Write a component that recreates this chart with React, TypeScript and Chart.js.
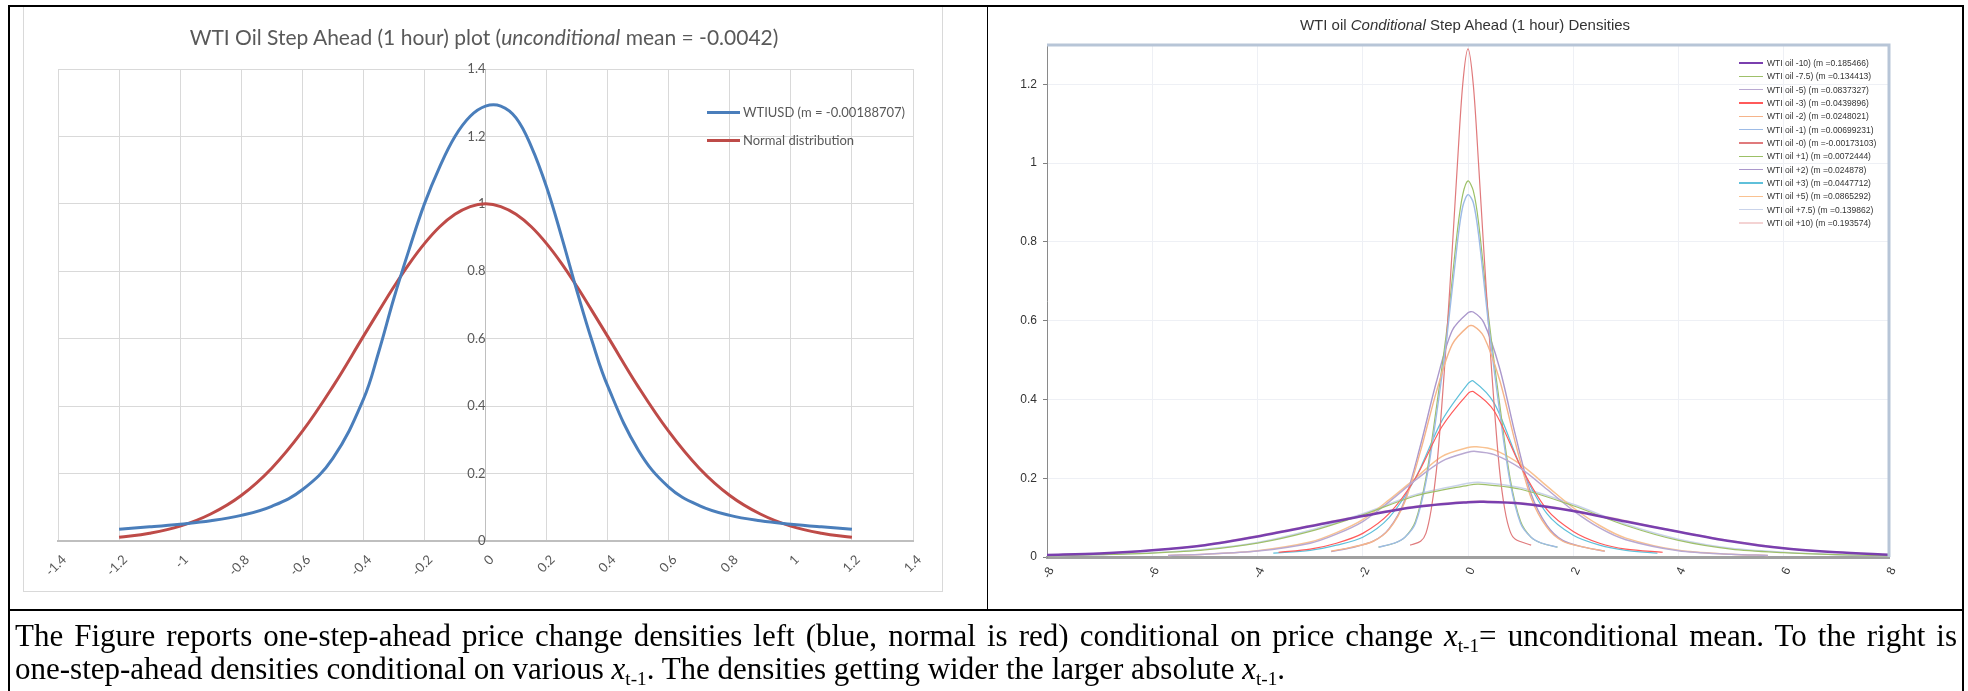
import React, { useEffect, useRef } from 'react';
import { Chart, registerables } from 'chart.js';

Chart.register(...registerables);

// ---------- Left chart data ----------
const leftX = [-1.2, -1.1, -1.0, -0.9, -0.8, -0.7, -0.6, -0.5, -0.4, -0.35, -0.3, -0.25, -0.2, -0.15, -0.1, -0.05, 0, 0.05, 0.1, 0.15, 0.2, 0.25, 0.3, 0.35, 0.4, 0.5, 0.6, 0.7, 0.8, 0.9, 1.0, 1.1, 1.2];
const wtiusdY = [0.035, 0.042, 0.05, 0.06, 0.076, 0.103, 0.152, 0.245, 0.42, 0.56, 0.72, 0.865, 1.0, 1.11, 1.2, 1.26, 1.29, 1.29, 1.255, 1.17, 1.05, 0.9, 0.74, 0.59, 0.46, 0.27, 0.16, 0.105, 0.076, 0.06, 0.05, 0.042, 0.035];
const normalY = [0.011, 0.023, 0.044, 0.08, 0.135, 0.216, 0.325, 0.458, 0.607, 0.681, 0.754, 0.822, 0.882, 0.932, 0.969, 0.992, 1.0, 0.992, 0.969, 0.932, 0.882, 0.822, 0.754, 0.681, 0.607, 0.458, 0.325, 0.216, 0.135, 0.08, 0.044, 0.023, 0.011];
const leftXTicks = [-1.4, -1.2, -1.0, -0.8, -0.6, -0.4, -0.2, 0, 0.2, 0.4, 0.6, 0.8, 1.0, 1.2, 1.4];
const leftXTickLabels = ['-1.4', '-1.2', '-1', '-0.8', '-0.6', '-0.4', '-0.2', '0', '0.2', '0.4', '0.6', '0.8', '1', '1.2', '1.4'];
const leftYTicks = [0, 0.2, 0.4, 0.6, 0.8, 1.0, 1.2, 1.4];
const leftYTickLabels = ['0', '0.2', '0.4', '0.6', '0.8', '1', '1.2', '1.4'];
const leftSeriesLabels = ['WTIUSD (m = -0.00188707)', 'Normal distribution'];
const leftSeriesColors = ['#4a7ebb', '#be4b48'];

// ---------- Right chart data ----------
const rightXTicks = [-8, -6, -4, -2, 0, 2, 4, 6, 8];
const rightXTickLabels = ['-8', '-6', '-4', '-2', '0', '2', '4', '6', '8'];
const rightYTicks = [0, 0.2, 0.4, 0.6, 0.8, 1.0, 1.2];
const rightYTickLabels = ['0', '0.2', '0.4', '0.6', '0.8', '1', '1.2'];

const rightSeriesLabels = [
  'WTI oil -10) (m =0.185466)',
  'WTI oil -7.5) (m =0.134413)',
  'WTI oil -5) (m =0.0837327)',
  'WTI oil -3) (m =0.0439896)',
  'WTI oil -2) (m =0.0248021)',
  'WTI oil -1) (m =0.00699231)',
  'WTI oil -0) (m =-0.00173103)',
  'WTI oil +1) (m =0.0072444)',
  'WTI oil +2) (m =0.024878)',
  'WTI oil +3) (m =0.0447712)',
  'WTI oil +5) (m =0.0865292)',
  'WTI oil +7.5) (m =0.139862)',
  'WTI oil +10) (m =0.193574)',
];
const rightSeriesColors = ['#7a3fae', '#9fc06a', '#b9a9d2', '#ff5a5a', '#f5b48a', '#9dbbe6', '#e07a7c', '#9cc066', '#ab98cc', '#5fc0da', '#f9c291', '#c9d3ea', '#f4d3d3'];
const rightSeriesWidths = [2.5, 1.2, 1.5, 1.2, 1.4, 1.4, 1.2, 1.2, 1.4, 1.2, 1.5, 1.5, 1.5];

const xM10 = [-8, -7, -6, -5, -4, -3, -2, -1, 0, 0.3, 1, 2, 3, 4, 5, 6, 7, 8];
const yM10 = [0.005, 0.009, 0.017, 0.03, 0.052, 0.078, 0.104, 0.127, 0.139, 0.14, 0.136, 0.117, 0.09, 0.064, 0.04, 0.022, 0.012, 0.006];
const xP10 = [-8, -7, -6, -5, -4, -3, -2, -1, 0, 0.3, 1, 2, 3, 4, 5, 6, 7, 8];
const yP10 = [0.005, 0.009, 0.017, 0.031, 0.054, 0.08, 0.106, 0.129, 0.141, 0.142, 0.138, 0.119, 0.092, 0.065, 0.041, 0.023, 0.012, 0.006];
const xM75 = [-8, -7, -6, -5, -4, -3, -2, -1, 0, 0.2, 1, 2, 3, 4, 5, 6, 7, 8];
const yM75 = [0.003, 0.006, 0.01, 0.018, 0.035, 0.065, 0.107, 0.155, 0.182, 0.185, 0.172, 0.13, 0.08, 0.042, 0.02, 0.011, 0.006, 0.003];
const xP75 = [-8, -7, -6, -5, -4, -3, -2, -1, 0, 0.2, 1, 2, 3, 4, 5, 6, 7, 8];
const yP75 = [0.003, 0.006, 0.011, 0.02, 0.037, 0.068, 0.11, 0.158, 0.187, 0.19, 0.176, 0.134, 0.083, 0.045, 0.022, 0.012, 0.006, 0.003];
const xM5 = [-5.7, -5, -4, -3, -2.5, -2, -1.5, -1, -0.5, 0, 0.15, 0.5, 1, 1.5, 2, 2.5, 3, 4, 5, 5.7];
const yM5 = [0.004, 0.007, 0.015, 0.035, 0.058, 0.09, 0.14, 0.195, 0.243, 0.266, 0.268, 0.26, 0.225, 0.172, 0.118, 0.074, 0.044, 0.016, 0.007, 0.004];
const xP5 = [-5.7, -5, -4, -3, -2.5, -2, -1.5, -1, -0.5, 0, 0.15, 0.5, 1, 1.5, 2, 2.5, 3, 4, 5, 5.7];
const yP5 = [0.004, 0.007, 0.016, 0.038, 0.062, 0.095, 0.145, 0.2, 0.255, 0.278, 0.28, 0.272, 0.235, 0.18, 0.125, 0.08, 0.048, 0.017, 0.007, 0.004];
const xM3 = [-3.6, -3, -2.5, -2, -1.5, -1, -0.5, 0, 0.1, 0.5, 1, 1.5, 2, 2.5, 3, 3.7];
const yM3 = [0.012, 0.02, 0.035, 0.06, 0.11, 0.2, 0.33, 0.415, 0.42, 0.37, 0.23, 0.12, 0.065, 0.035, 0.02, 0.012];
const xP3 = [-3.7, -3, -2.5, -2, -1.5, -1, -0.5, 0, 0.1, 0.5, 1, 1.5, 2, 2.5, 3, 3.6];
const yP3 = [0.01, 0.017, 0.03, 0.05, 0.1, 0.2, 0.345, 0.44, 0.447, 0.39, 0.23, 0.11, 0.055, 0.03, 0.017, 0.01];
const xM2 = [-2.6, -2.2, -1.8, -1.5, -1.2, -0.9, -0.6, -0.3, 0, 0.1, 0.3, 0.6, 0.9, 1.2, 1.5, 1.8, 2.2, 2.6];
const yM2 = [0.015, 0.025, 0.04, 0.07, 0.14, 0.27, 0.42, 0.54, 0.585, 0.587, 0.56, 0.45, 0.29, 0.15, 0.075, 0.04, 0.025, 0.015];
const xP2 = [-2.6, -2.2, -1.8, -1.5, -1.2, -0.9, -0.6, -0.3, 0, 0.1, 0.3, 0.6, 0.9, 1.2, 1.5, 1.8, 2.2, 2.6];
const yP2 = [0.014, 0.024, 0.04, 0.072, 0.145, 0.285, 0.445, 0.575, 0.62, 0.622, 0.595, 0.48, 0.31, 0.16, 0.08, 0.042, 0.025, 0.015];
const xM1 = [-1.7, -1.4, -1.2, -1, -0.8, -0.6, -0.4, -0.2, -0.1, 0, 0.1, 0.2, 0.4, 0.6, 0.8, 1, 1.2, 1.4, 1.7];
const yM1 = [0.025, 0.035, 0.05, 0.085, 0.19, 0.36, 0.56, 0.8, 0.89, 0.92, 0.9, 0.82, 0.58, 0.37, 0.19, 0.085, 0.05, 0.035, 0.025];
const xP1 = [-1.7, -1.4, -1.2, -1, -0.8, -0.6, -0.4, -0.2, -0.1, 0, 0.1, 0.2, 0.4, 0.6, 0.8, 1, 1.2, 1.4, 1.7];
const yP1 = [0.025, 0.035, 0.05, 0.09, 0.2, 0.38, 0.58, 0.83, 0.92, 0.955, 0.93, 0.85, 0.6, 0.39, 0.2, 0.09, 0.05, 0.035, 0.025];
const x0 = [-1.1, -0.9, -0.8, -0.7, -0.6, -0.5, -0.4, -0.3, -0.2, -0.1, 0, 0.1, 0.2, 0.3, 0.4, 0.5, 0.6, 0.7, 0.8, 0.9, 1.2];
const y0 = [0.03, 0.04, 0.06, 0.12, 0.22, 0.38, 0.57, 0.78, 1.0, 1.2, 1.29, 1.2, 1.0, 0.78, 0.57, 0.38, 0.22, 0.12, 0.065, 0.045, 0.03];

const rightXs = [xM10, xM75, xM5, xM3, xM2, xM1, x0, xP1, xP2, xP3, xP5, xP75, xP10];
const rightYs = [yM10, yM75, yM5, yM3, yM2, yM1, y0, yP1, yP2, yP3, yP5, yP75, yP10];

const EXCEL_FONT = 'Lato, "Open Sans", sans-serif';
const ARIAL = '"Liberation Sans", Arial, sans-serif';

function LeftChart() {
  const ref = useRef<HTMLCanvasElement>(null);
  useEffect(() => {
    const chart = new Chart(ref.current as HTMLCanvasElement, {
      type: 'line',
      data: {
        datasets: [wtiusdY, normalY].map((ys, i) => ({
          label: leftSeriesLabels[i],
          data: leftX.map((x, j) => ({ x, y: ys[j] })),
          borderColor: leftSeriesColors[i],
          borderWidth: 3,
          pointRadius: 0,
          tension: 0.4,
          fill: false,
        })),
      },
      options: {
        animation: false,
        responsive: false,
        devicePixelRatio: 1,
        layout: { padding: { left: 35, right: 30, top: 63, bottom: 0 } },
        plugins: { legend: { display: false }, title: { display: false }, tooltip: { enabled: false } },
        scales: {
          x: {
            type: 'linear',
            min: -1.4,
            max: 1.4,
            position: 'bottom',
            afterFit: (s: any) => { s.height = 51; },
            afterBuildTicks: (s: any) => { s.ticks = leftXTicks.map((v) => ({ value: v })); },
            ticks: {
              minRotation: 45,
              maxRotation: 45,
              padding: 11,
              labelOffset: 6,
              color: '#595959',
              font: { family: EXCEL_FONT, size: 13 },
              callback: (_v: any, i: number) => leftXTickLabels[i],
            },
            grid: { color: '#d9d9d9', drawTicks: false, lineWidth: 1 },
            border: { color: '#bfbfbf', width: 2 },
          },
          y: {
            type: 'linear',
            min: 0,
            max: 1.4,
            position: { x: 0 } as any,
            afterBuildTicks: (s: any) => { s.ticks = leftYTicks.map((v) => ({ value: v })); },
            ticks: {
              padding: 14,
              color: '#595959',
              font: { family: EXCEL_FONT, size: 13 },
              callback: (_v: any, i: number) => leftYTickLabels[i],
            },
            grid: { color: '#d9d9d9', drawTicks: false, lineWidth: 1 },
            border: { color: '#bfbfbf', width: 1 },
          },
        },
      },
    } as any);
    return () => chart.destroy();
  }, []);
  return (
    <canvas
      ref={ref}
      width={920}
      height={586}
      style={{ position: 'absolute', left: 23, top: 6, width: 920, height: 586 }}
    />
  );
}

const plotFrame = {
  id: 'plotFrame',
  afterDatasetsDraw(chart: any) {
    const { ctx, chartArea } = chart;
    const { left, top, right, bottom } = chartArea;
    ctx.save();
    ctx.strokeStyle = '#b7c5d7';
    ctx.lineWidth = 3;
    ctx.beginPath();
    ctx.moveTo(left, top);
    ctx.lineTo(right, top);
    ctx.lineTo(right, bottom);
    ctx.stroke();
    ctx.restore();
  },
};

function RightChart() {
  const ref = useRef<HTMLCanvasElement>(null);
  useEffect(() => {
    const chart = new Chart(ref.current as HTMLCanvasElement, {
      type: 'line',
      data: {
        datasets: rightYs.map((ys, i) => ({
          label: rightSeriesLabels[i],
          data: rightXs[i].map((x, j) => ({ x, y: ys[j] })),
          borderColor: rightSeriesColors[i],
          borderWidth: rightSeriesWidths[i],
          pointRadius: 0,
          tension: 0.3,
          fill: false,
        })),
      },
      options: {
        animation: false,
        responsive: false,
        devicePixelRatio: 1,
        layout: { padding: { left: 0, right: 73, top: 38, bottom: 0 } },
        plugins: { legend: { display: false }, title: { display: false }, tooltip: { enabled: false } },
        scales: {
          x: {
            type: 'linear',
            min: -8,
            max: 8,
            position: 'bottom',
            afterFit: (s: any) => { s.height = 52; },
            afterBuildTicks: (s: any) => { s.ticks = rightXTicks.map((v) => ({ value: v })); },
            ticks: {
              minRotation: 65,
              maxRotation: 65,
              padding: 8,
              labelOffset: 4,
              color: '#333333',
              font: { family: ARIAL, size: 12 },
              callback: (_v: any, i: number) => rightXTickLabels[i],
            },
            grid: { color: '#eef0f5', drawTicks: false, lineWidth: 1 },
            border: { color: '#a0a0a0', width: 3 },
          },
          y: {
            type: 'linear',
            min: 0,
            max: 1.3,
            position: 'left',
            afterFit: (s: any) => { s.width = 59; },
            afterBuildTicks: (s: any) => { s.ticks = rightYTicks.map((v) => ({ value: v })); },
            ticks: {
              padding: 6,
              color: '#333333',
              font: { family: ARIAL, size: 12 },
              callback: (_v: any, i: number) => rightYTickLabels[i],
            },
            grid: { color: '#eef0f5', drawTicks: true, tickLength: 4, tickColor: '#808080', lineWidth: 1 },
            border: { color: '#8a8a8a', width: 1 },
          },
        },
      },
      plugins: [plotFrame],
    } as any);
    return () => chart.destroy();
  }, []);
  return (
    <canvas
      ref={ref}
      width={974}
      height={602}
      style={{ position: 'absolute', left: 988, top: 7, width: 974, height: 602 }}
    />
  );
}

const subStyle: React.CSSProperties = { fontSize: '0.62em', verticalAlign: '-0.3em', lineHeight: 0 };

export default function App() {
  return (
    <div style={{ position: 'absolute', left: 0, top: 0, width: 1968, height: 691, overflow: 'hidden', background: '#fff' }}>
      {/* left chart area frame */}
      <div style={{ position: 'absolute', left: 23, top: 6, width: 920, height: 586, border: '1px solid #d9d9d9', boxSizing: 'border-box' }} />
      <LeftChart />
      <div
        style={{
          position: 'absolute', left: 484, top: 36, transform: 'translate(-50%, -50%)', whiteSpace: 'nowrap',
          fontFamily: EXCEL_FONT, fontSize: 21, color: '#595959',
        }}
      >
        WTI Oil Step Ahead (1 hour) plot (<i>unconditional</i> mean = -0.0042)
      </div>
      {/* left legend */}
      {leftSeriesLabels.map((lab, i) => (
        <div key={lab} style={{ position: 'absolute', left: 707, top: 112 + i * 28 - 10, height: 20, display: 'flex', alignItems: 'center', whiteSpace: 'nowrap' }}>
          <div style={{ width: 33, height: 3, background: leftSeriesColors[i], marginRight: 3 }} />
          <span style={{ fontFamily: EXCEL_FONT, fontSize: 13, color: '#595959' }}>{lab}</span>
        </div>
      ))}

      <RightChart />
      <div
        style={{
          position: 'absolute', left: 1465, top: 24, transform: 'translate(-50%, -50%)', whiteSpace: 'nowrap',
          fontFamily: ARIAL, fontSize: 15, color: '#333',
        }}
      >
        WTI oil <i>Conditional</i> Step Ahead (1 hour) Densities
      </div>
      {/* right legend */}
      {rightSeriesLabels.map((lab, i) => (
        <div key={lab} style={{ position: 'absolute', left: 1739, top: 63 + i * 13.33 - 6, height: 12, display: 'flex', alignItems: 'center', whiteSpace: 'nowrap' }}>
          <div style={{ width: 24, height: rightSeriesWidths[i] > 2 ? 2.5 : 1.5, background: rightSeriesColors[i], marginRight: 4 }} />
          <span style={{ fontFamily: '"Liberation Sans Narrow", "Liberation Sans", Arial, sans-serif', fontSize: 8.5, color: '#333' }}>{lab}</span>
        </div>
      ))}

      {/* table borders */}
      <div style={{ position: 'absolute', left: 8, top: 5, width: 1956, height: 720, border: '2px solid #000', boxSizing: 'border-box' }} />
      <div style={{ position: 'absolute', left: 987, top: 7, width: 1, height: 603, background: '#000' }} />
      <div style={{ position: 'absolute', left: 10, top: 609, width: 1952, height: 2, background: '#000' }} />

      {/* caption */}
      <div
        style={{
          position: 'absolute', left: 10, top: 619, width: 1952, boxSizing: 'border-box', padding: '0 5px',
          fontFamily: '"Liberation Serif", "Times New Roman", serif', fontSize: 31, lineHeight: '33px', color: '#000',
        }}
      >
        <div style={{ textAlign: 'justify', textAlignLast: 'justify' }}>
          The Figure reports one-step-ahead price change densities left (blue, normal is red) conditional on price change <i>x</i><sub style={subStyle}>t-1</sub>= unconditional mean. To the right is
        </div>
        <div style={{ whiteSpace: 'nowrap' }}>
          one-step-ahead densities conditional on various <i>x</i><sub style={subStyle}>t-1</sub>. The densities getting wider the larger absolute <i>x</i><sub style={subStyle}>t-1</sub>.
        </div>
      </div>
    </div>
  );
}
